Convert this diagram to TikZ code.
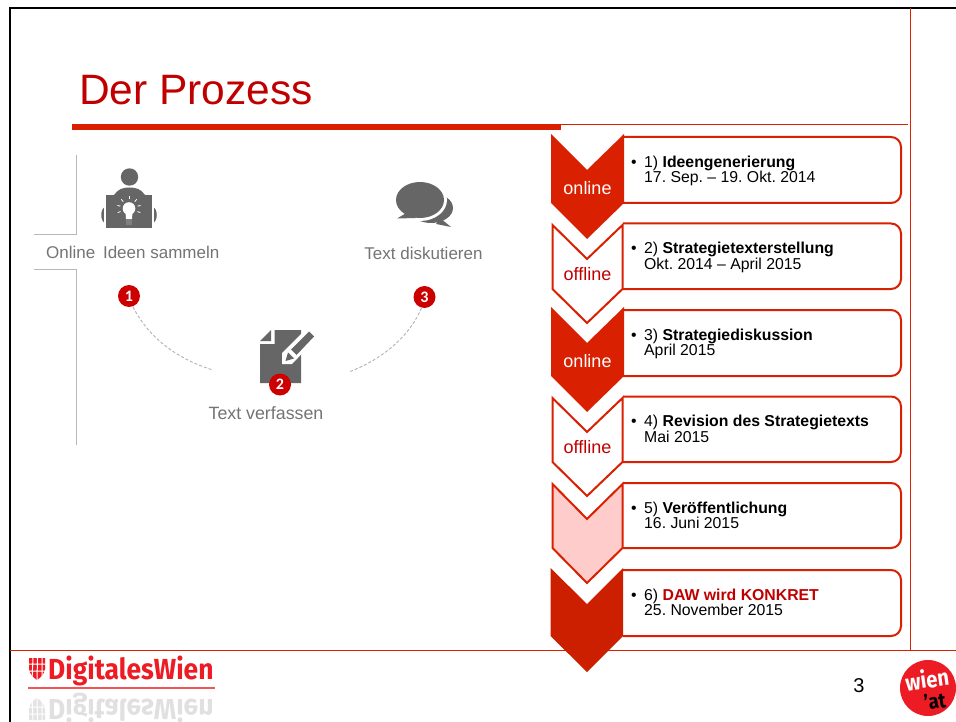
\documentclass[tikz,border=0pt]{standalone}
\usepackage{fontspec}
\setmainfont{Liberation Sans}
\newfontfamily\logofont{Fira Sans}
\newfontfamily\badgefont{Carlito}
\usetikzlibrary{calc}
\definecolor{dawred}{HTML}{D92000}
\definecolor{darkred}{HTML}{CC1F00}
\definecolor{titlered}{HTML}{C00000}
\definecolor{paleRed}{HTML}{FFCCCC}
\definecolor{icongray}{HTML}{666666}
\definecolor{labelgray}{HTML}{747474}
\definecolor{logored}{HTML}{ED1C24}
\tikzset{
  x=1pt,y=-1pt,
  stepbox/.style={draw=dawred,line width=2pt},
  filledchev/.style={fill=dawred,draw=none},
  hollowchev/.style={fill=white,draw=dawred,line width=2pt,miter limit=10},
  palechev/.style={fill=paleRed,draw=dawred,line width=2pt,miter limit=10},
  chevlabel/.style={font=\fontsize{18}{20}\selectfont,inner sep=0pt,anchor=center},
  steptext/.style={font=\fontsize{15.8}{15.6}\selectfont\frenchspacing,align=left,anchor=north west,inner sep=0pt,text=black},
  graylabel/.style={font=\fontsize{17}{18}\selectfont,text=labelgray,inner sep=0pt,anchor=center},
  badge/.style={circle,fill=red!80!black,minimum size=22pt,inner sep=0pt,text=white,font=\badgefont\bfseries\fontsize{16}{16}\selectfont},
  dashconn/.style={draw=black!30,line width=0.9pt,dash pattern=on 3pt off 2pt},
  redrule/.style={draw=dawred,line width=1pt},
  grayrule/.style={draw=black!28,line width=0.9pt},
}
\newcommand{\stepbox}[2]{\draw[stepbox] (623,#1) [rounded corners=10pt] -- (901,#1) -- (901,#2) [sharp corners] -- (623,#2);}
\begin{document}
\begin{tikzpicture}
\useasboundingbox (0,0) rectangle (956,722);
\fill[white] (0,0) rectangle (956,722);
% frame
\draw[black,line width=2pt] (956,8) -- (9.5,8) -- (9.5,722);
\draw[redrule] (910.5,8) -- (910.5,650);
\draw[redrule] (72,125) -- (908,125);
\fill[dawred] (72,124.5) rectangle (561,130);
\draw[redrule] (10,650.5) -- (956,650.5);
\node[anchor=west,inner sep=0pt,text=titlered,font=\fontsize{42.5}{45}\selectfont] (title) at (79,90) {Der Prozess};
% left rules
\draw[grayrule] (76.5,155) -- (76.5,234.5) -- (34,234.5);
\draw[grayrule] (34,269.5) -- (76.5,269.5) -- (76.5,445);
% person icon
\fill[icongray] (129.5,177) circle (8.7);
\fill[icongray] (114,195) .. controls (118,189) and (123,187.5) .. (129.5,187.5) .. controls (136,187.5) and (141,189) .. (145,195) -- cycle;
\fill[icongray] (105,207) .. controls (100,209) and (100,221) .. (105,223) -- (109,223) -- (109,207) -- cycle;
\fill[icongray] (153,207) .. controls (158,209) and (158,221) .. (153,223) -- (149,223) -- (149,207) -- cycle;
\draw[white,line width=1.4pt] (105,204) -- (105,226) (153,204) -- (153,226);
\fill[icongray] (106,195) rectangle (152,228.5);
\fill[white] (129,208.5) circle (6.3);
\fill[white] (125.5,212) -- (132.5,212) -- (132,219) -- (126,219) -- cycle;
\fill[black!50] (126,219) rectangle (132,225.5);
\foreach \a in {90,50,130,15,165,-20,200}
  \draw[white,line width=0.8pt] ({129+9*cos(\a)},{208.5-9*sin(\a)}) -- ({129+12*cos(\a)},{208.5-12*sin(\a)});
% speech icon
\fill[icongray] (431,208) ellipse (22 and 15);
\fill[icongray] (440,218) -- (451,227) -- (436,224) -- cycle;
\fill[white] (420,200) ellipse (27 and 21);
\fill[icongray] (420,200) ellipse (24 and 18);
\fill[icongray] (408,212) -- (397,218.5) -- (416,218) -- cycle;
% document icon
\fill[icongray] (274.5,330) -- (301,330) -- (301,383) -- (260,383) -- (260,344) -- (274.5,344) -- cycle;
\fill[icongray] (271,330) -- (271,341) -- (260,341) -- cycle;
\fill[white] (282,353) -- (306,329) -- (316,339) -- (292,364) -- (282,364) -- cycle;
\fill[icongray] (291,349.5) -- (309,331.5) -- (314,336.5) -- (296.5,355) -- cycle;
\fill[icongray] (285.5,361) -- (288,352.5) -- (294,358.5) -- cycle;
% badges and labels
\node[graylabel,anchor=west] (l1) at (46,252) {Online\hspace{3pt} Ideen sammeln};
\node[graylabel] (l3) at (423.5,253) {Text diskutieren};
\node[graylabel,font=\fontsize{17.8}{18}\selectfont] (l2) at (266,413) {Text verfassen};
\node[badge] (b1) at (129,296) {1};
\node[badge] (b3) at (424.5,297) {3};
\node[badge] (b2) at (280,384.5) {2};
\coordinate (e1) at (213,370);
\coordinate (e3) at (349,372);
\draw[dashconn] (b1) ++(4,11) .. controls (150,340) and (180,360) .. (e1);
\draw[dashconn] (b3) ++(-3,11) .. controls (410,335) and (385,358) .. (e3);
% step boxes
\stepbox{137}{203}
\stepbox{223.5}{289}
\stepbox{310}{376}
\stepbox{396.5}{462}
\stepbox{483}{548}
\stepbox{570}{636}
% chevrons
\filldraw[filledchev] (551,134) -- (587,170) -- (624,134) -- (624,203) -- (587,239) -- (551,203) -- cycle;
\draw[hollowchev] (552.5,225) -- (587,259) -- (622.5,225) -- (622.5,289) -- (587,323) -- (552.5,289) -- cycle;
\filldraw[filledchev] (551,307) -- (587,343) -- (624,307) -- (624,376) -- (587,412) -- (551,376) -- cycle;
\draw[hollowchev] (552.5,398) -- (587,432) -- (622.5,398) -- (622.5,462) -- (587,496) -- (552.5,462) -- cycle;
\draw[palechev] (552.5,484) -- (587,519) -- (622.5,484) -- (622.5,548) -- (587,583) -- (552.5,548) -- cycle;
\filldraw[fill=darkred,draw=none] (550.5,568) -- (587,604) -- (623,568) -- (623,636) -- (587,672) -- (550.5,636) -- cycle;
\node[chevlabel,text=white] (c1) at (587.5,188) {online};
\node[chevlabel,text=titlered] (c2) at (587.5,274) {offline};
\node[chevlabel,text=white] (c3) at (587.5,361) {online};
\node[chevlabel,text=titlered] (c4) at (587.5,447) {offline};
% step texts
\newcommand{\bul}{\makebox[13pt][l]{\textbullet}}
\node[steptext] (t1) at (631,155.6) {\bul 1) \textbf{Ideengenerierung}\\\hspace*{13pt}17. Sep. – 19. Okt. 2014};
\node[steptext] (t2) at (631,242) {\bul 2) \textbf{Strategietexterstellung}\\\hspace*{13pt}Okt. 2014 – April 2015};
\node[steptext] (t3) at (631,328.6) {\bul 3) \textbf{Strategiediskussion}\\\hspace*{13pt}April 2015};
\node[steptext] (t4) at (631,415) {\bul 4) \textbf{Revision des Strategietexts}\\\hspace*{13pt}Mai 2015};
\node[steptext] (t5) at (631,501.6) {\bul 5) \textbf{Veröffentlichung}\\\hspace*{13pt}16. Juni 2015};
\node[steptext] (t6) at (631,588.6) {\bul 6) \textcolor{titlered}{\textbf{DAW wird KONKRET}}\\\hspace*{13pt}25. November 2015};
% page number
\node[inner sep=0pt,font=\fontsize{20}{22}\selectfont] (pg) at (859,686) {3};
% DigitalesWien logo
\begin{scope}
\clip (12,652) rectangle (300,722);
\fill[logored] (29,658) -- (45,658) -- (45,669) .. controls (44,675) and (40,678) .. (37,680) .. controls (34,678) and (30,675) .. (29,669) -- cycle;
\draw[white,line width=1pt] (33,657) -- (32,681) (37.5,657) -- (37,681) (42,657) -- (42,681) (28,664) -- (46,664) (28,671) -- (46,671);
\node[anchor=west,inner sep=0pt,text=logored,xscale=.91,font=\logofont\bfseries\fontsize{29}{32}\selectfont] (logo) at (48,671) {DigitalesWien};
\fill[logored!75] (28,686.5) rectangle (215,689);
\fill[black!11] (29,720) -- (45,720) -- (45,709) .. controls (44,703) and (40,700) .. (37,698) .. controls (34,700) and (30,703) .. (29,709) -- cycle;
\draw[white,line width=1pt] (33,721) -- (32,697) (37.5,721) -- (37,697) (42,721) -- (42,697) (28,714) -- (46,714) (28,707) -- (46,707);
\node[anchor=west,inner sep=0pt,text=black!12,xscale=.91,yscale=-1,font=\logofont\bfseries\fontsize{29}{32}\selectfont] (logor) at (48,708) {DigitalesWien};
\end{scope}
% wien.at logo
\fill[logored] (928,688) circle (28);
\node[rotate=8,xscale=.88,inner sep=0pt,text=white,font=\logofont\bfseries\fontsize{23}{23}\selectfont] (w1) at (927,679) {wien};
\node[rotate=8,xscale=.88,inner sep=0pt,text=black,font=\logofont\bfseries\fontsize{21}{21}\selectfont] (w2) at (935,701) {’at};
\end{tikzpicture}
\end{document}
